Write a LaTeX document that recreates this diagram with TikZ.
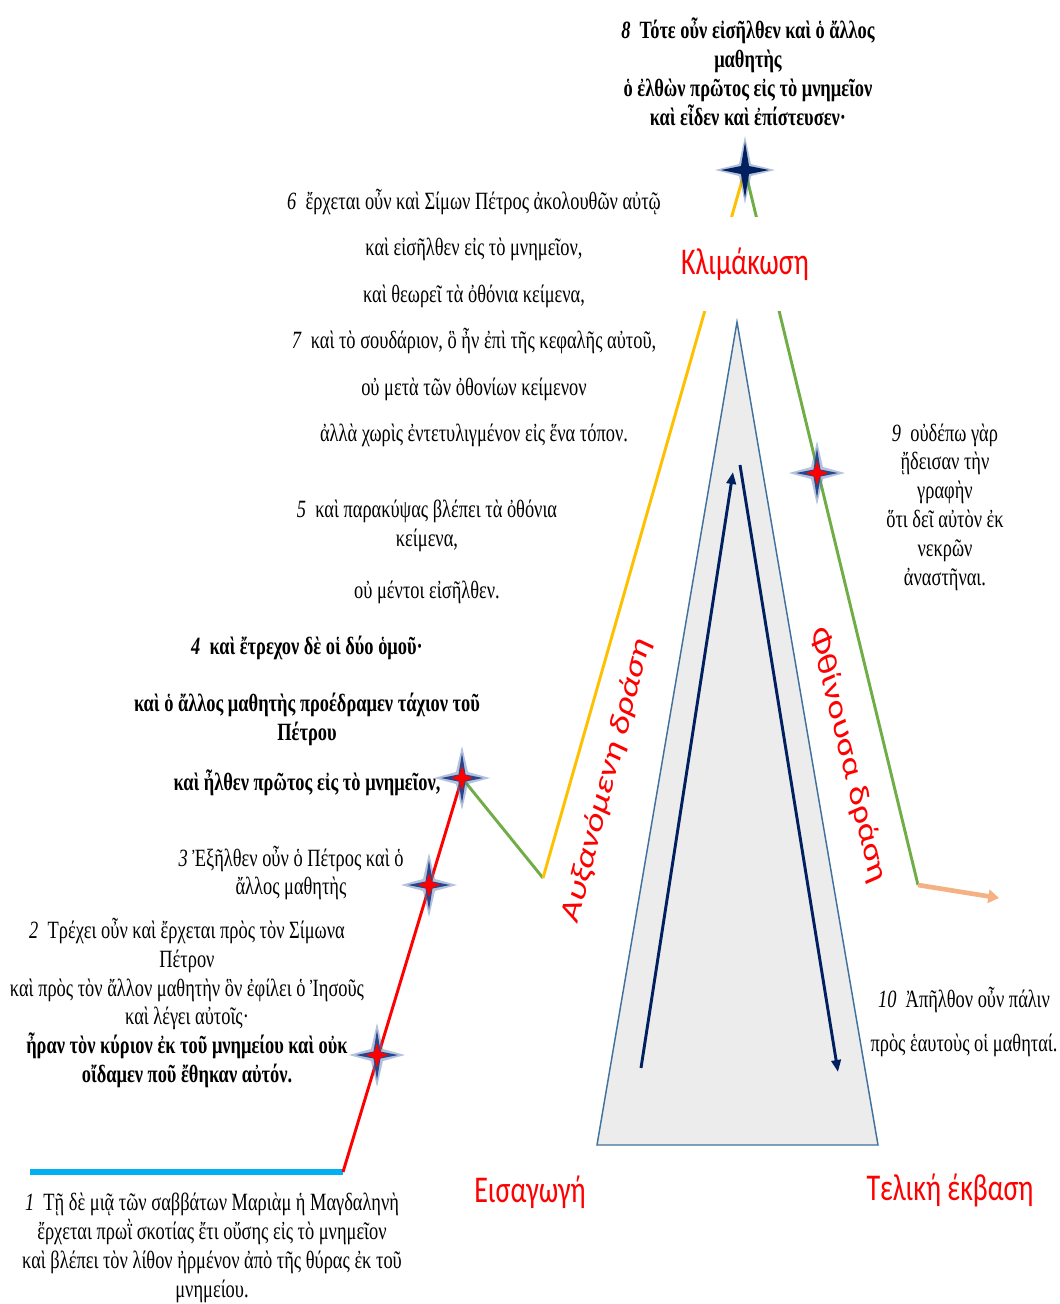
\documentclass[tikz,border=0pt]{standalone}
\usepackage{fontspec}
\setmainfont{Liberation Serif}
\newfontfamily\labelfont{Carlito}
\usetikzlibrary{arrows.meta}

\definecolor{introblue}{RGB}{0,176,240}
\definecolor{risered}{RGB}{255,0,0}
\definecolor{risegreen}{RGB}{112,173,71}
\definecolor{fallgreen}{RGB}{112,173,71}
\definecolor{climaxgold}{RGB}{255,192,0}
\definecolor{endorange}{RGB}{244,177,131}
\definecolor{arrownavy}{RGB}{0,32,96}
\definecolor{conegray}{RGB}{236,236,236}
\definecolor{coneedge}{RGB}{65,113,156}
\definecolor{phasered}{RGB}{255,0,0}
\definecolor{sparkhalo}{RGB}{90,120,180}
\definecolor{sparkblue}{RGB}{40,70,140}

\tikzset{
  verse/.style={font=\fontsize{13.8}{16}\selectfont, align=center, yscale=1.35, inner sep=0pt},
  phase/.style={text=phasered, font=\labelfont\fontsize{21}{24}\selectfont, yscale=1.35, inner sep=1pt},
  plotline/.style={line width=2.2pt},
  spark/.pic={
    \fill[sparkhalo, opacity=.45] (0,-32) -- (6,-6) -- (28,0) -- (6,6) -- (0,32) -- (-6,6) -- (-28,0) -- (-6,-6) -- cycle;
    \fill[sparkblue] (0,-25) -- (3.5,-3.5) -- (21,0) -- (3.5,3.5) -- (0,25) -- (-3.5,3.5) -- (-21,0) -- (-3.5,-3.5) -- cycle;
    \fill[red] (0,-12) -- (3,-3) -- (11,0) -- (3,3) -- (0,12) -- (-3,3) -- (-11,0) -- (-3,-3) -- cycle;
  },
  topspark/.pic={
    \fill[sparkhalo, opacity=.45] (0,-34) -- (6,-6) -- (30,0) -- (6,6) -- (0,34) -- (-6,6) -- (-30,0) -- (-6,-6) -- cycle;
    \fill[arrownavy] (0,-28) -- (4,-4) -- (24,0) -- (4,4) -- (0,28) -- (-4,4) -- (-24,0) -- (-4,-4) -- cycle;
  },
}

\begin{document}
\begin{tikzpicture}[x=0.75pt, y=-0.75pt]
  \useasboundingbox (0,0) rectangle (1060,1304);

  % The grey cone with the two arrows in it.
  \coordinate (tip) at (737,322);
  \coordinate (baseL) at (597,1145);
  \coordinate (baseR) at (878,1145);
  \draw[coneedge, fill=conegray, line width=1.1pt] (tip) -- (baseL) -- (baseR) -- cycle;

  \coordinate (upfrom) at (641,1068);
  \coordinate (upto) at (733,472);
  \coordinate (downfrom) at (740,465);
  \coordinate (downto) at (838,1072);
  \draw[arrownavy, line width=2.2pt, -{Triangle[length=9pt,width=7pt]}] (upfrom) -- (upto);
  \draw[arrownavy, line width=2.2pt, -{Triangle[length=9pt,width=7pt]}] (downfrom) -- (downto);

  % The plot line, left to right.
  \coordinate (start) at (30,1172);
  \coordinate (intro) at (343,1172);
  \coordinate (first) at (462,778);
  \coordinate (dip) at (543,878);
  \coordinate (climax) at (745,170);
  \coordinate (fall) at (918,885);
  \coordinate (finish) at (999,898);
  \draw[introblue, line width=3.8pt] (start) -- (intro);
  \draw[risered, plotline] (intro) -- (first);
  \draw[risegreen, plotline] (first) -- (dip);
  \draw[climaxgold, plotline] (dip) -- (climax);
  \draw[fallgreen, plotline] (climax) -- (fall);
  \draw[endorange, line width=3.5pt, -{Triangle[length=8pt,width=10pt]}] (fall) -- (finish);

  % Stars on the line
  \pic at (377,1055) {spark};
  \pic at (429,885) {spark};
  \pic at (462,778) {spark};
  \pic at (817,473) {spark};
  \pic at (745,170) {topspark};

  % Red labels of the phases
  \node[phase, fill=white, inner ysep=17pt, inner xsep=3pt] (climaxlabel) at (745,264) {Κλιμάκωση};
  \node[phase] (introlabel) at (530,1192) {Εισαγωγή};
  \node[phase] (endlabel) at (950,1190) {Τελική έκβαση};
  \node[phase, rotate=70.8] (riselabel) at (607,780) {Αυξανόμενη δράση};
  \node[phase, rotate=-72] (falllabel) at (848,755) {Φθίνουσα δράση};

  % The verses
  \node[verse, font=\bfseries\fontsize{13.8}{16}\selectfont] (verse8) at (748,72)
    {\textit{8}\enspace Τότε οὖν εἰσῆλθεν καὶ ὁ ἄλλος\\ μαθητὴς\\ ὁ ἐλθὼν πρῶτος εἰς τὸ μνημεῖον\\ καὶ εἶδεν καὶ ἐπίστευσεν·};
  \node[verse, font=\fontsize{13.8}{25.8}\selectfont] (verse6) at (474,318)
    {\textit{6}\enspace ἔρχεται οὖν καὶ Σίμων Πέτρος ἀκολουθῶν αὐτῷ\\
     καὶ εἰσῆλθεν εἰς τὸ μνημεῖον,\\
     καὶ θεωρεῖ τὰ ὀθόνια κείμενα,\\
     \textit{7}\enspace καὶ τὸ σουδάριον, ὃ ἦν ἐπὶ τῆς κεφαλῆς αὐτοῦ,\\
     οὐ μετὰ τῶν ὀθονίων κείμενον\\
     ἀλλὰ χωρὶς ἐντετυλιγμένον εἰς ἕνα τόπον.};
  \node[verse] (verse5) at (427,552)
    {\textit{5}\enspace καὶ παρακύψας βλέπει τὰ ὀθόνια\\ κείμενα,\\[13pt] οὐ μέντοι εἰσῆλθεν.};
  \node[verse, font=\bfseries\fontsize{13.8}{16}\selectfont] (verse4) at (307,716)
    {\textit{4}\enspace καὶ ἔτρεχον δὲ οἱ δύο ὁμοῦ·\\[16pt]
     καὶ ὁ ἄλλος μαθητὴς προέδραμεν τάχιον τοῦ\\ Πέτρου\\[12pt]
     καὶ ἦλθεν πρῶτος εἰς τὸ μνημεῖον,};
  \node[verse] (verse3) at (291,873)
    {\textit{3} Ἐξῆλθεν οὖν ὁ Πέτρος καὶ ὁ\\ ἄλλος μαθητὴς};
  \node[verse] (verse2) at (187,1003)
    {\textit{2}\enspace Τρέχει οὖν καὶ ἔρχεται πρὸς τὸν Σίμωνα\\ Πέτρον\\
     καὶ πρὸς τὸν ἄλλον μαθητὴν ὃν ἐφίλει ὁ Ἰησοῦς\\ καὶ λέγει αὐτοῖς·\\
     \textbf{ἦραν τὸν κύριον ἐκ τοῦ μνημείου καὶ οὐκ}\\
     \textbf{οἴδαμεν ποῦ ἔθηκαν αὐτόν.}};
  \node[verse] (verse1) at (212,1248)
    {\textit{1}\enspace Τῇ δὲ μιᾷ τῶν σαββάτων Μαριὰμ ἡ Μαγδαληνὴ\\
     ἔρχεται πρωῒ σκοτίας ἔτι οὔσης εἰς τὸ μνημεῖον\\
     καὶ βλέπει τὸν λίθον ἠρμένον ἀπὸ τῆς θύρας ἐκ τοῦ\\ μνημείου.};
  \node[verse] (verse9) at (945,507)
    {\textit{9}\enspace οὐδέπω γὰρ\\ ᾔδεισαν τὴν\\ γραφὴν\\ ὅτι δεῖ αὐτὸν ἐκ\\ νεκρῶν\\ ἀναστῆναι.};
  \node[verse, font=\fontsize{13.8}{24}\selectfont] (verse10) at (964,1022)
    {\textit{10}\enspace Ἀπῆλθον οὖν πάλιν\\ πρὸς ἑαυτοὺς οἱ μαθηταί.};

\end{tikzpicture}
\end{document}
